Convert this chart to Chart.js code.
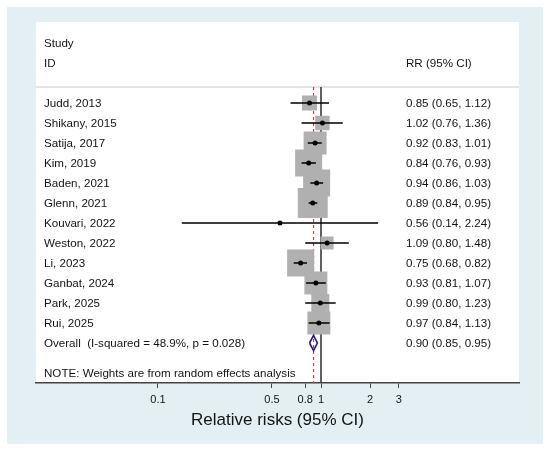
<!DOCTYPE html>
<html>
<head>
<meta charset="utf-8">
<script src="https://cdn.jsdelivr.net/npm/chart.js@4/dist/chart.umd.min.js"></script>
<style>
  html, body { margin: 0; padding: 0; background: #ffffff; }
  #wrap { width: 550px; height: 454px; position: relative; }
</style>
</head>
<body>
<div id="wrap"><canvas id="c"></canvas></div>
<script>
// ---- data ----
const studies = ['Judd, 2013','Shikany, 2015','Satija, 2017','Kim, 2019','Baden, 2021','Glenn, 2021',
                 'Kouvari, 2022','Weston, 2022','Li, 2023','Ganbat, 2024','Park, 2025','Rui, 2025'];
const rr      = [0.85, 1.02, 0.92, 0.84, 0.94, 0.89, 0.56, 1.09, 0.75, 0.93, 0.99, 0.97];
const ciLow   = [0.65, 0.76, 0.83, 0.76, 0.86, 0.84, 0.14, 0.80, 0.68, 0.81, 0.80, 0.84];
const ciHigh  = [1.12, 1.36, 1.01, 0.93, 1.03, 0.95, 2.24, 1.48, 0.82, 1.07, 1.23, 1.13];
const weights = [4.0, 3.7, 9.4, 13.0, 13.0, 16.0, 0.2, 3.0, 13.0, 9.4, 5.8, 9.4]; // % (random effects)
const overall = { rr: 0.90, low: 0.85, high: 0.95 };
const overallLabel = 'Overall  (I-squared = 48.9%, p = 0.028)';
const noteText = 'NOTE: Weights are from random effects analysis';
const tickValues = [0.1, 0.5, 0.8, 1, 2, 3];
const tickLabels = ['0.1', '0.5', '0.8', '1', '2', '3'];
const axisTitle = 'Relative risks (95% CI)';

// ---- layout / style constants ----
const X_MIN = 0.01785, X_MAX = 16.39;
const Y_MIN = -4.05, Y_MAX = 14;
const SEP_ROW = -0.8, OVERALL_ROW = studies.length, NOTE_ROW = studies.length + 1.5;
const BOX_SCALE = 7.49;          // px side per sqrt(weight %)
const FONT = "'Liberation Sans', Arial, Helvetica, sans-serif";
const TEXT_COLOR = '#141414';

const rows = studies.map((_, i) => i);

const pointData = rr.map((v, i) => ({ x: v, y: rows[i] }));
const boxRadii = weights.map(w => (BOX_SCALE * Math.sqrt(w)) / (2 * Math.SQRT1_2));
const ciData = [];
rows.forEach(i => {
  ciData.push({ x: ciLow[i], y: i }, { x: ciHigh[i], y: i }, { x: null, y: null });
});
const dH = 0.38;
const diamondData = [
  { x: overall.low, y: OVERALL_ROW },
  { x: overall.rr, y: OVERALL_ROW - dH },
  { x: overall.high, y: OVERALL_ROW },
  { x: overall.rr, y: OVERALL_ROW + dH },
  { x: overall.low, y: OVERALL_ROW }
];

const bgPlugin = {
  id: 'bg',
  beforeDraw(chart) {
    const { ctx, chartArea: a } = chart;
    ctx.save();
    ctx.fillStyle = '#ffffff';
    ctx.fillRect(0, 0, chart.width, chart.height);
    ctx.fillStyle = '#e3eff2';
    ctx.fillRect(7, 7, 536, 437);
    ctx.fillStyle = '#ffffff';
    ctx.fillRect(a.left, a.top, a.right - a.left, a.bottom - a.top);
    ctx.restore();
  }
};

const textPlugin = {
  id: 'cols',
  afterDraw(chart) {
    const { ctx, chartArea: a } = chart;
    const ys = chart.scales.y;
    const leftX = a.left + 8, rightX = a.left + 370;
    ctx.save();
    ctx.fillStyle = TEXT_COLOR;
    ctx.font = '11.6px ' + FONT;
    ctx.textAlign = 'left';
    ctx.textBaseline = 'middle';
    const put = (t, x, row) => ctx.fillText(t, x, ys.getPixelForValue(row) + 0.5);
    put('Study', leftX, -3);
    put('ID', leftX, -2);
    put('RR (95% CI)', rightX, -2);
    rows.forEach(i => {
      put(studies[i], leftX, i);
      put(rr[i].toFixed(2) + ' (' + ciLow[i].toFixed(2) + ', ' + ciHigh[i].toFixed(2) + ')', rightX, i);
    });
    put(overallLabel, leftX, OVERALL_ROW);
    put(overall.rr.toFixed(2) + ' (' + overall.low.toFixed(2) + ', ' + overall.high.toFixed(2) + ')', rightX, OVERALL_ROW);
    put(noteText, leftX, NOTE_ROW);
    ctx.restore();
  }
};

new Chart(document.getElementById('c'), {
  type: 'scatter',
  data: {
    datasets: [
      { label: 'estimate', data: pointData, pointRadius: 2.5, pointHoverRadius: 2.5,
        backgroundColor: '#000000', borderColor: '#000000', borderWidth: 0, showLine: false },
      { label: 'ci', data: ciData, showLine: true, spanGaps: false, pointRadius: 0,
        borderColor: '#000000', borderWidth: 1.4, fill: false },
      { label: 'overall', data: diamondData, showLine: true, pointRadius: 0,
        borderColor: '#1c1c86', borderWidth: 1.6, fill: false, tension: 0 },
      { label: 'weights', data: pointData, pointStyle: 'rect', pointRadius: boxRadii, pointHoverRadius: boxRadii,
        backgroundColor: '#b0b0b0', borderWidth: 0, showLine: false },
      { label: 'pooled', data: [{ x: overall.rr, y: SEP_ROW }, { x: overall.rr, y: Y_MAX }], showLine: true,
        pointRadius: 0, borderColor: '#c8404a', borderWidth: 1.2, borderDash: [3, 3] },
      { label: 'null', data: [{ x: 1, y: SEP_ROW }, { x: 1, y: Y_MAX }], showLine: true,
        pointRadius: 0, borderColor: '#3a3a3a', borderWidth: 1.6 },
      { label: 'sep', data: [{ x: X_MIN, y: SEP_ROW }, { x: X_MAX, y: SEP_ROW }], showLine: true,
        pointRadius: 0, borderColor: '#c8c8c8', borderWidth: 1 }
    ]
  },
  options: {
    responsive: true,
    maintainAspectRatio: false,
    animation: false,
    events: [],
    layout: { padding: { left: 36, top: 22, right: 31, bottom: 10 } },
    plugins: { legend: { display: false }, tooltip: { enabled: false }, title: { display: false } },
    scales: {
      x: {
        type: 'logarithmic',
        min: X_MIN, max: X_MAX,
        afterBuildTicks(scale) { scale.ticks = tickValues.map(v => ({ value: v })); },
        afterFit(scale) { scale.height = 61; },
        ticks: {
          autoSkip: false, maxRotation: 0, padding: 5,
          color: TEXT_COLOR, font: { family: FONT, size: 11 },
          callback(value, index) { return tickLabels[index]; }
        },
        grid: { display: true, drawOnChartArea: false, drawTicks: true, tickLength: 5,
                color: '#444444', tickWidth: 1 },
        border: { display: true, color: '#444444', width: 1.5 },
        title: { display: true, text: axisTitle, color: TEXT_COLOR,
                 font: { family: FONT, size: 17 }, padding: { top: 0, bottom: 13 } }
      },
      y: {
        type: 'linear', reverse: true, min: Y_MIN, max: Y_MAX, display: false
      }
    }
  },
  plugins: [bgPlugin, textPlugin]
});
</script>
</body>
</html>
